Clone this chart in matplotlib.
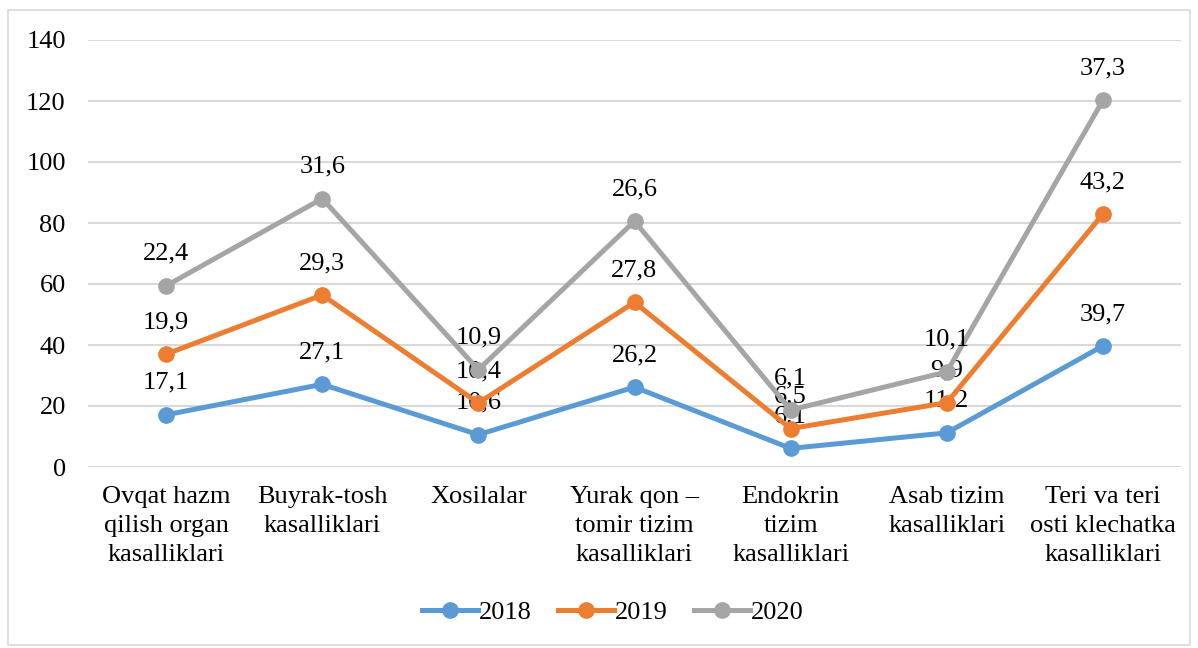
import matplotlib
matplotlib.use("Agg")
from matplotlib import pyplot as plt
from matplotlib.patches import Rectangle

# data
categories = ["Ovqat hazm\nqilish organ\nkasalliklari", "Buyrak-tosh\nkasalliklari", "Xosilalar",
              "Yurak qon –\ntomir tizim\nkasalliklari", "Endokrin\ntizim\nkasalliklari",
              "Asab tizim\nkasalliklari", "Teri va teri\nosti klechatka\nkasalliklari"]
years = ["2018", "2019", "2020"]
v2018 = [17.1, 27.1, 10.6, 26.2, 6.1, 11.2, 39.7]
v2019 = [19.9, 29.3, 10.4, 27.8, 6.5, 9.9, 43.2]
v2020 = [22.4, 31.6, 10.9, 26.6, 6.1, 10.1, 37.3]
colors = ["#5B9BD5", "#ED7D31", "#A5A5A5"]

plt.rcParams['font.family'] = ['Liberation Serif', 'DejaVu Serif']
plt.rcParams['font.size'] = 19

fig = plt.figure(figsize=(11.98, 6.48), dpi=100)
ax = fig.add_axes([88/1198, 1-467/648, (1181-88)/1198, (467-40)/648])

# outer frame
fig.patches.append(Rectangle((8/1198, 3/648), 1182/1198, 635/648, transform=fig.transFigure,
                             fill=False, edgecolor="#d9d9d9", linewidth=1.2))

x = list(range(len(categories)))
base = [0]*len(x)
for vals, col, yr in zip([v2018, v2019, v2020], colors, years):
    cum = [b + v for b, v in zip(base, vals)]
    ax.plot(x, cum, color=col, linewidth=3.6, marker='o', markersize=11, label=yr,
            solid_joinstyle='round', zorder=3)
    for xi, yi, v in zip(x, cum, vals):
        ax.annotate(f"{v:.1f}".replace('.', ','), (xi, yi), xytext=(0, 23),
                    textcoords='offset points', ha='center', va='center', fontsize=19)
    base = cum

ax.set_xlim(-0.5, len(x) - 0.5)
ax.set_ylim(0, 140)
ax.set_yticks(range(0, 141, 20))
ax.set_xticks(x)
ax.set_xticklabels(categories, linespacing=1.4, va='top')
ax.yaxis.grid(True, color="#d9d9d9", linewidth=1.5)
ax.set_axisbelow(True)
for s in ax.spines.values():
    s.set_visible(False)
ax.tick_params(axis='both', length=0)
ax.tick_params(axis='y', pad=16)
ax.tick_params(axis='x', pad=14)

fig.legend(*ax.get_legend_handles_labels(), loc='center', bbox_to_anchor=(613/1198, 1-612/648),
           ncol=3, frameon=False, handlelength=2.1, columnspacing=1.0, handletextpad=0.05)

fig.savefig("out.png", dpi=100)
